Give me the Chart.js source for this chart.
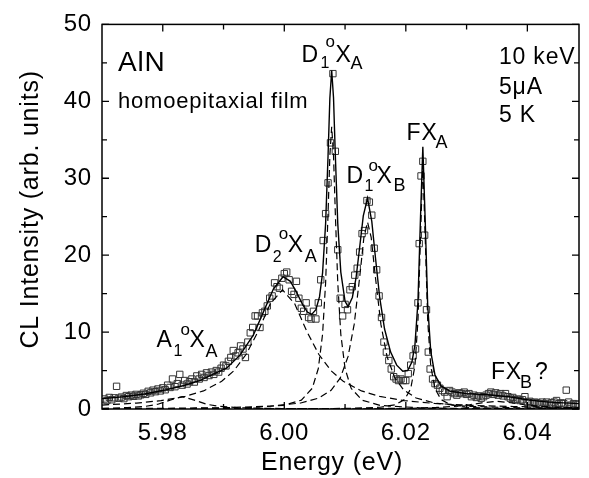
<!DOCTYPE html>
<html>
<head>
<meta charset="utf-8">
<script src="https://cdn.jsdelivr.net/npm/chart.js@4.4.1/dist/chart.umd.min.js"></script>
<style>
  html, body { margin: 0; padding: 0; background: #fff; }
  #wrap { width: 589px; height: 478px; }
</style>
</head>
<body>
<div id="wrap"><canvas id="cl" width="589" height="478"></canvas></div>
<script>
// ---- measured CL spectrum (energy in eV, intensity in arb. units) ----
const clEnergy = [
  5.9704, 5.9708, 5.9712, 5.9716, 5.9720, 5.9724, 5.9728, 5.9732, 5.9736, 5.9740,
  5.9744, 5.9748, 5.9752, 5.9756, 5.9760, 5.9764, 5.9768, 5.9772, 5.9776, 5.9780,
  5.9784, 5.9788, 5.9792, 5.9796, 5.9800, 5.9804, 5.9808, 5.9812, 5.9816, 5.9820,
  5.9824, 5.9828, 5.9832, 5.9836, 5.9840, 5.9844, 5.9848, 5.9852, 5.9856, 5.9860,
  5.9864, 5.9868, 5.9872, 5.9876, 5.9880, 5.9884, 5.9888, 5.9892, 5.9896, 5.9900,
  5.9904, 5.9908, 5.9912, 5.9916, 5.9920, 5.9924, 5.9928, 5.9932, 5.9936, 5.9940,
  5.9944, 5.9948, 5.9952, 5.9956, 5.9960, 5.9964, 5.9968, 5.9972, 5.9976, 5.9980,
  5.9984, 5.9988, 5.9992, 5.9996, 6.0000,
  6.0004, 6.0008, 6.0012, 6.0016, 6.0020, 6.0024, 6.0028, 6.0032, 6.0036, 6.0040,
  6.0044, 6.0048, 6.0052, 6.0056, 6.0060,
  6.0064, 6.0068, 6.0072, 6.0076, 6.0080, 6.0084, 6.0088, 6.0092, 6.0096,
  6.0100, 6.0104, 6.0108, 6.0112, 6.0116, 6.0120, 6.0124, 6.0128, 6.0132, 6.0136,
  6.0140, 6.0144, 6.0148, 6.0152, 6.0156, 6.0160, 6.0164, 6.0168, 6.0172, 6.0176,
  6.0180, 6.0184, 6.0188, 6.0192, 6.0196, 6.0200, 6.0204, 6.0208, 6.0212,
  6.0216, 6.0220, 6.0222, 6.0225, 6.0228, 6.0231, 6.0234, 6.0237, 6.0240, 6.0244, 6.0248,
  6.0252, 6.0256, 6.0260, 6.0264, 6.0268, 6.0272, 6.0276, 6.0280, 6.0284, 6.0288,
  6.0292, 6.0296, 6.0300, 6.0304, 6.0308, 6.0312, 6.0316, 6.0320, 6.0324, 6.0328,
  6.0332, 6.0336, 6.0340, 6.0344, 6.0348, 6.0352, 6.0356, 6.0360, 6.0364, 6.0368,
  6.0372, 6.0376, 6.0380, 6.0384, 6.0388, 6.0392, 6.0396, 6.0400, 6.0404, 6.0408,
  6.0412, 6.0416, 6.0420, 6.0424, 6.0428, 6.0432, 6.0436, 6.0440, 6.0444, 6.0448,
  6.0452, 6.0456, 6.0460, 6.0464, 6.0468, 6.0472, 6.0476, 6.0480, 6.0484
];
const clIntensity = [
  1.30, 1.10, 1.50, 1.20, 1.45, 2.95, 1.40, 1.55, 1.35, 1.75,
  1.60, 1.80, 1.65, 1.90, 1.70, 1.85, 2.05, 1.90, 2.30, 2.10,
  2.45, 2.25, 2.60, 2.35, 2.75, 2.50, 3.10, 2.80, 3.90, 2.90,
  3.30, 4.50, 3.10, 3.70, 3.25, 3.55, 3.90, 3.50, 4.30, 3.90,
  4.50, 4.10, 4.70, 4.35, 4.80, 4.50, 5.00, 4.80, 5.30, 5.70,
  5.60, 6.20, 6.70, 7.60, 6.90, 7.30, 8.20, 7.80, 6.70, 8.70,
  9.90, 10.6, 12.1, 12.1, 10.6, 12.5, 12.7, 13.4, 14.4, 14.7,
  16.4, 15.9, 15.7, 17.0, 17.6,
  17.8, 16.8, 15.3, 14.9, 16.6, 14.4, 13.1, 12.7, 13.8, 11.9,
  11.7, 12.7, 11.7, 13.8, 16.8,
  21.9, 25.4, 29.4, 34.6, 43.6, 33.5, 20.7, 14.4, 12.1,
  13.6, 12.9, 15.5, 15.9, 17.4, 18.3, 20.4, 22.8, 23.2, 27.1,
  26.9, 25.2, 20.9, 18.1, 14.7, 11.9, 8.70, 7.40, 6.30, 5.20,
  4.20, 3.90, 3.70, 3.90, 3.70, 3.70, 4.60, 5.70, 6.90,
  7.80, 13.8, 21.5, 30.3, 32.2, 22.6, 12.9, 7.40, 5.20, 3.90, 3.30,
  3.10, 2.70, 2.40, 2.20, 1.60, 2.40, 2.20, 2.00, 1.80, 2.10,
  2.00, 2.20, 1.90, 2.00, 1.60, 1.80, 1.50, 1.70, 1.40, 1.60,
  1.80, 2.00, 2.20, 1.90, 2.10, 1.80, 2.00, 1.70, 2.00, 1.60,
  1.40, 1.50, 1.20, 1.30, 1.10, 1.20, 1.60, 0.90, 1.00, 0.70,
  0.90, 0.80, 0.60, 0.90, 0.70, 0.90, 0.60, 0.80, 0.90, 1.10,
  0.70, 0.80, 0.70, 2.45, 0.90, 0.50, 0.70, 0.60, 0.65
];

// ---- total fit (solid curve) ----
const fitEnergy = [
  5.9700, 5.9735, 5.9770, 5.9806, 5.9835, 5.9861, 5.9885, 5.9905, 5.9927, 5.9949,
  5.9965, 5.9982, 5.9998, 6.0010, 6.0020, 6.0030, 6.0038, 6.0045, 6.0052, 6.0058,
  6.0063, 6.0068, 6.0072, 6.0075, 6.0078, 6.0081, 6.0084, 6.0088, 6.0093, 6.0100,
  6.0105, 6.0112, 6.0118, 6.0124, 6.0130, 6.0137, 6.0144, 6.0150, 6.0157, 6.0165,
  6.0175, 6.0185, 6.0195, 6.0203, 6.0210, 6.0215, 6.0220, 6.0224, 6.0228, 6.0232,
  6.0236, 6.0241, 6.0248, 6.0258, 6.0273, 6.0300, 6.0335, 6.0370, 6.0400, 6.0435,
  6.0485
];
const fitIntensity = [
  1.35, 1.60, 1.95, 2.50, 3.05, 3.70, 4.60, 5.30, 7.00, 9.60,
  12.5, 15.6, 17.2, 16.6, 15.2, 13.6, 12.6, 12.3, 12.9, 14.6,
  17.7, 24.1, 32.9, 40.4, 44.0, 40.5, 33.0, 24.1, 17.8, 14.0,
  13.3, 14.5, 17.0, 21.0, 25.1, 27.4, 24.4, 19.7, 14.5, 10.4,
  7.40, 5.70, 4.90, 5.00, 6.10, 8.30, 14.0, 24.5, 34.1, 24.2,
  13.5, 7.50, 4.40, 3.00, 2.30, 2.00, 1.85, 1.60, 1.20, 0.90,
  0.70
];

// ---- fitted line components (dashed curves) ----
const a1Energy = [5.9700, 5.9742, 5.9772, 5.9792, 5.9812, 5.9832, 5.9852, 5.9872, 5.9892, 5.9922, 5.9972, 6.0052, 6.0182, 6.0485];
const a1Intensity = [0.09, 0.18, 0.35, 0.62, 1.15, 1.60, 1.15, 0.62, 0.35, 0.18, 0.08, 0.03, 0.01, 0.00];

const d2Energy = [5.9700, 5.9757, 5.9797, 5.9837, 5.9867, 5.9897, 5.9917, 5.9937, 5.9957, 5.9977, 5.9997, 6.0017,
                  6.0037, 6.0057, 6.0077, 6.0097, 6.0127, 6.0157, 6.0197, 6.0247, 6.0307, 6.0377, 6.0485];
const d2Intensity = [0.51, 0.77, 1.09, 1.64, 2.35, 3.60, 4.97, 7.08, 10.1, 13.7, 15.5, 13.7,
                     10.1, 7.08, 4.97, 3.60, 2.35, 1.64, 1.09, 0.72, 0.47, 0.32, 0.19];

const d1aEnergy = [5.9700, 5.9828, 5.9928, 5.9998, 6.0028, 6.0046, 6.0056, 6.0063, 6.0068, 6.0072, 6.0075, 6.0078,
                   6.0081, 6.0084, 6.0088, 6.0093, 6.0100, 6.0110, 6.0128, 6.0158, 6.0228, 6.0328, 6.0485];
const d1aIntensity = [0.02, 0.05, 0.13, 0.46, 1.15, 2.69, 5.26, 9.72, 16.4, 25.4, 33.0, 36.7,
                      33.0, 25.4, 16.4, 9.72, 5.26, 2.69, 1.15, 0.46, 0.13, 0.05, 0.02];

const d1bEnergy = [5.9700, 5.9800, 5.9900, 5.9977, 6.0027, 6.0057, 6.0077, 6.0092, 6.0105, 6.0115, 6.0124, 6.0131,
                   6.0137, 6.0143, 6.0150, 6.0159, 6.0169, 6.0182, 6.0197, 6.0217, 6.0247, 6.0297, 6.0374, 6.0485];
const d1bIntensity = [0.05, 0.09, 0.17, 0.37, 0.78, 1.43, 2.43, 4.01, 6.83, 11.0, 17.1, 22.3,
                      24.3, 22.3, 17.1, 11.0, 6.83, 4.01, 2.43, 1.43, 0.78, 0.37, 0.17, 0.08];

const fxaEnergy = [5.9700, 5.9900, 6.0028, 6.0108, 6.0158, 6.0183, 6.0198, 6.0208, 6.0215, 6.0220, 6.0224,
                   6.0228, 6.0232, 6.0236, 6.0241, 6.0248, 6.0258, 6.0273, 6.0298, 6.0348, 6.0485];
const fxaIntensity = [0.00, 0.01, 0.03, 0.08, 0.23, 0.56, 1.23, 2.63, 5.60, 11.5, 22.1,
                      31.9, 22.1, 11.5, 5.60, 2.63, 1.23, 0.56, 0.23, 0.08, 0.02];

const fxbEnergy = [5.9700, 6.0000, 6.0150, 6.0210, 6.0250, 6.0280, 6.0305, 6.0325, 6.0350, 6.0375, 6.0395, 6.0420, 6.0450, 6.0485];
const fxbIntensity = [0.01, 0.02, 0.06, 0.10, 0.20, 0.34, 0.55, 0.80, 1.00, 0.80, 0.55, 0.34, 0.20, 0.12];

// ---- axes ----
const xMajorTicks = [5.98, 6.00, 6.02, 6.04];
const xTickLabels = ['5.98', '6.00', '6.02', '6.04'];
const xMinorTicks = [5.99, 6.01, 6.03];
const yMajorTicks = [0, 10, 20, 30, 40, 50];
const yTickLabels = ['0', '10', '20', '30', '40', '50'];
const yMinorTicks = [5, 15, 25, 35, 45];

const FONT = '"Liberation Sans", Arial, Helvetica, sans-serif';
Chart.defaults.font.family = FONT;
Chart.defaults.color = '#000';

const pairs = (xs, ys) => xs.map((x, i) => ({ x: x, y: ys[i] }));

function component(xs, ys) {
  return {
    type: 'line', data: pairs(xs, ys), borderColor: '#000', borderWidth: 1.2,
    borderDash: [7, 4], pointRadius: 0, fill: false, tension: 0, order: 2
  };
}

// peak assignments, anchored at (energy, intensity); parts: [text, dx, dy, font size]
const peakLabels = [
  { at: [6.00283, 45.1], parts: [['D', 0, 0, 23], ['1', 19, 6, 16], ['o', 24, -15, 17], ['X', 34, 0, 23], ['A', 49, 7, 18]] },
  { at: [6.01025, 29.4], parts: [['D', 0, 0, 23], ['1', 18, 8, 16], ['o', 22, -12, 17], ['X', 30, 0, 23], ['B', 47, 8, 18]] },
  { at: [5.99514, 20.4], parts: [['D', 0, 0, 23], ['2', 18, 10, 16], ['o', 24, -13, 17], ['X', 33, 0, 23], ['A', 50, 10, 18]] },
  { at: [6.02013, 35.0], parts: [['FX', 0, 0, 23], ['A', 29, 8, 18]] },
  { at: [5.97895, 8.0], parts: [['A', 0, 0, 23], ['1', 17, 9, 16], ['o', 24, -12, 17], ['X', 33, 0, 23], ['A', 49, 10, 18]] },
  { at: [6.03402, 3.86], parts: [['FX', 0, 0, 23], ['B', 29, 9, 18], ['?', 44, 0, 23]] }
];

const framePlugin = {
  id: 'frame',
  beforeDraw(chart) {
    chart.ctx.letterSpacing = '0.8px';
  },
  afterDraw(chart) {
    const ctx = chart.ctx;
    const a = chart.chartArea;
    const xs = chart.scales.x, ys = chart.scales.y;
    ctx.save();
    ctx.strokeStyle = '#000';
    ctx.lineWidth = 1.5;
    ctx.strokeRect(a.left, a.top, a.right - a.left, a.bottom - a.top);

    ctx.lineWidth = 1.3;
    ctx.beginPath();
    const xTick = (v, len) => {
      const p = xs.getPixelForValue(v);
      ctx.moveTo(p, a.bottom); ctx.lineTo(p, a.bottom - len);
      ctx.moveTo(p, a.top); ctx.lineTo(p, a.top + len);
    };
    const yTick = (v, len) => {
      const p = ys.getPixelForValue(v);
      ctx.moveTo(a.left, p); ctx.lineTo(a.left + len, p);
      ctx.moveTo(a.right, p); ctx.lineTo(a.right - len, p);
    };
    xMajorTicks.forEach(v => xTick(v, 7));
    xMinorTicks.forEach(v => xTick(v, 5));
    yMajorTicks.forEach(v => yTick(v, 7));
    yMinorTicks.forEach(v => yTick(v, 5));
    ctx.stroke();

    ctx.fillStyle = '#000';
    ctx.textBaseline = 'alphabetic';
    ctx.textAlign = 'left';
    ctx.letterSpacing = '0.8px';

    // sample / excitation conditions
    ctx.font = '28px ' + FONT;
    ctx.fillText('AlN', a.left + 16, a.top + 47);
    ctx.font = '22px ' + FONT;
    ctx.fillText('homoepitaxial film', a.left + 16, a.top + 84);
    ctx.font = '23px ' + FONT;
    ctx.fillText('10 keV', a.left + 397, a.top + 40);
    ctx.fillText('5\u03bcA', a.left + 397, a.top + 70);
    ctx.fillText('5 K', a.left + 397, a.top + 98);

    // peak assignments
    peakLabels.forEach(l => {
      const x0 = xs.getPixelForValue(l.at[0]);
      const y0 = ys.getPixelForValue(l.at[1]);
      l.parts.forEach(([t, dx, dy, size]) => {
        ctx.font = size + 'px ' + FONT;
        ctx.fillText(t, x0 + dx, y0 + dy);
      });
    });

    // axis titles
    ctx.font = '25px ' + FONT;
    ctx.textAlign = 'center';
    ctx.fillText('Energy (eV)', a.left + 230, a.bottom + 61);
    ctx.translate(37.5, a.top + 185);
    ctx.rotate(-Math.PI / 2);
    ctx.fillText('CL Intensity (arb. units)', 0, 0);
    ctx.restore();
  }
};

new Chart(document.getElementById('cl'), {
  type: 'scatter',
  data: {
    datasets: [
      {
        type: 'line', data: pairs(fitEnergy, fitIntensity), borderColor: '#000', borderWidth: 1.4,
        pointRadius: 0, fill: false, tension: 0, order: 1
      },
      component(a1Energy, a1Intensity),
      component(d2Energy, d2Intensity),
      component(d1aEnergy, d1aIntensity),
      component(d1bEnergy, d1bIntensity),
      component(fxaEnergy, fxaIntensity),
      component(fxbEnergy, fxbIntensity),
      {
        type: 'scatter', data: pairs(clEnergy, clIntensity), pointStyle: 'rect', pointRadius: 4.5,
        borderColor: '#333', borderWidth: 1, backgroundColor: 'rgba(255,255,255,0)', order: 3
      }
    ]
  },
  options: {
    responsive: false,
    animation: false,
    devicePixelRatio: 1,
    layout: { padding: { top: 20, right: 10, left: 0, bottom: 0 } },
    plugins: { legend: { display: false }, tooltip: { enabled: false } },
    scales: {
      x: {
        type: 'linear', min: 5.97, max: 6.0485,
        afterBuildTicks: s => { s.ticks = xMajorTicks.map(v => ({ value: v })); },
        afterFit: s => { s.height = 69; },
        grid: { display: false, drawTicks: false },
        border: { display: false },
        ticks: { padding: 10, font: { size: 24 }, color: '#000', maxRotation: 0, autoSkip: false,
                 callback: (v, i) => xTickLabels[i] }
      },
      y: {
        type: 'linear', min: 0, max: 50,
        afterBuildTicks: s => { s.ticks = yMajorTicks.map(v => ({ value: v })); },
        afterFit: s => { s.width = 102; },
        grid: { display: false, drawTicks: false },
        border: { display: false },
        ticks: { padding: 10, font: { size: 24 }, color: '#000', autoSkip: false,
                 callback: (v, i) => yTickLabels[i] }
      }
    }
  },
  plugins: [framePlugin]
});
</script>
</body>
</html>
